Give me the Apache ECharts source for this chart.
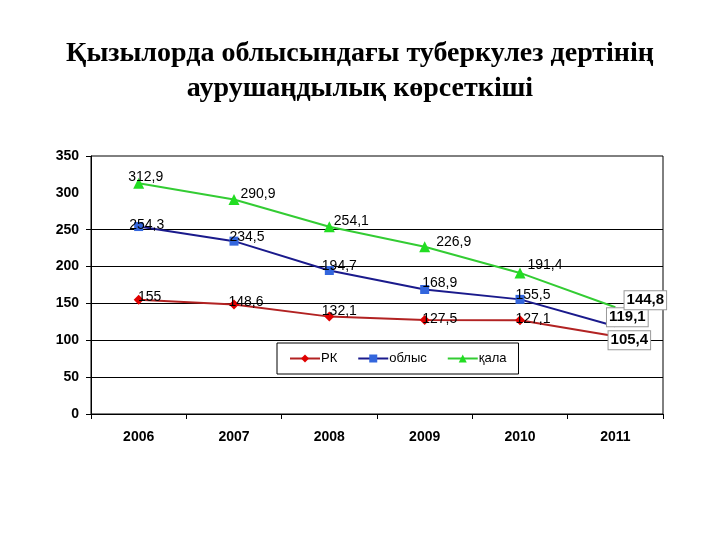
<!DOCTYPE html>
<html>
<head>
<meta charset="utf-8">
<script src="https://cdn.jsdelivr.net/npm/echarts@6/dist/echarts.min.js"></script>
<style>html,body{margin:0;padding:0;background:#fff}#c{width:720px;height:540px}</style>
</head>
<body>
<div id="c"></div>
<script>
var categories = ['2006', '2007', '2008', '2009', '2010', '2011'];
var seriesNames = ['РК', 'облыс', 'қала'];
var rkValues = [155, 148.6, 132.1, 127.5, 127.1, 105.4];
var oblysValues = [254.3, 234.5, 194.7, 168.9, 155.5, 119.1];
var qalaValues = [312.9, 290.9, 254.1, 226.9, 191.4, 144.8];
var yTicks = [0, 50, 100, 150, 200, 250, 350];

// label offsets (style only)
var rkOffsets = [[11,-3],[12,-2],[10,-5],[15,-1],[13,-1],[14,4]];
var oblysOffsets = [[8,-1],[13,-4],[10,-4],[15,-6],[13,-4],[12,-9]];
var qalaOffsets = [[7,-6],[24,-5],[22,-6],[29,-5],[25,-8],[30,-7]];

function fmt(v){ return String(v).replace('.', ','); }

function buildData(values, offsets, lastFont) {
  return values.map(function (v, i) {
    var last = i === values.length - 1;
    var item = {
      value: v,
      label: {
        show: true,
        position: 'inside',
        offset: offsets[i],
        formatter: function (p) { return fmt(p.value); },
        color: '#000',
        fontFamily: 'Liberation Sans, Arial, sans-serif',
        fontSize: 14
      }
    };
    if (last) {
      item.symbolSize = 0;
      item.label.fontWeight = 'bold';
      item.label.fontSize = lastFont;
      item.label.backgroundColor = '#fff';
      item.label.borderColor = '#999';
      item.label.borderWidth = 1;
      item.label.padding = [2, 2, 1, 2];
    }
    return item;
  });
}

var chart = echarts.init(document.getElementById('c'));
chart.setOption({
  animation: false,
  backgroundColor: '#fff',
  title: {
    text: 'Қызылорда облысындағы туберкулез дертінің\nаурушаңдылық көрсеткіші',
    left: 'center',
    top: 31,
    textStyle: {
      fontFamily: 'Liberation Serif, Times New Roman, serif',
      fontWeight: 'bold',
      fontSize: 28,
      lineHeight: 35,
      color: '#000'
    }
  },
  legend: {
    data: seriesNames,
    left: 277,
    top: 343,
    width: 220,
    height: 32,
    padding: [9, 12, 9, 12],
    itemGap: 20,
    itemWidth: 30,
    itemHeight: 10,
    backgroundColor: '#fff',
    borderColor: '#000',
    borderWidth: 1,
    textStyle: { fontFamily: 'Liberation Sans, Arial, sans-serif', fontSize: 13, color: '#000', padding: [0,0,0,-4] }
  },
  grid: {
    left: 91, right: 57, top: 156, bottom: 126,
    show: true,
    borderColor: '#000',
    borderWidth: 1,
    backgroundColor: '#fff'
  },
  xAxis: {
    type: 'category',
    data: categories,
    boundaryGap: true,
    axisLine: { lineStyle: { color: '#000', width: 1 } },
    axisTick: { show: true, length: 5, lineStyle: { color: '#000' } },
    axisLabel: {
      color: '#000', fontWeight: 'bold', fontSize: 14, margin: 16,
      fontFamily: 'Liberation Sans, Arial, sans-serif'
    }
  },
  yAxis: {
    type: 'value',
    min: 0, max: 350, interval: 50,
    axisLine: { show: true, lineStyle: { color: '#000', width: 1 } },
    axisTick: { show: true, length: 5, customValues: yTicks, lineStyle: { color: '#000' } },
    axisLabel: {
      color: '#000', fontWeight: 'bold', fontSize: 14, margin: 12,
      fontFamily: 'Liberation Sans, Arial, sans-serif'
    },
    splitLine: {
      show: true,
      lineStyle: { color: ['#000','#000','#000','#000','#000','#000','rgba(0,0,0,0)','#000'], width: 1 }
    }
  },
  series: [
    {
      name: seriesNames[0], type: 'line', data: buildData(rkValues, rkOffsets, 15),
      symbol: 'diamond', symbolSize: 10,
      lineStyle: { color: '#b22222', width: 2 },
      itemStyle: { color: '#e00000' },
      z: 3
    },
    {
      name: seriesNames[1], type: 'line', data: buildData(oblysValues, oblysOffsets, 15),
      symbol: 'rect', symbolSize: 9,
      lineStyle: { color: '#1a1a8c', width: 2 },
      itemStyle: { color: '#3366dd' },
      z: 3
    },
    {
      name: seriesNames[2], type: 'line', data: buildData(qalaValues, qalaOffsets, 15),
      symbol: 'triangle', symbolSize: 11,
      lineStyle: { color: '#33cc33', width: 2 },
      itemStyle: { color: '#22dd22' },
      z: 3
    }
  ]
});
</script>
</body>
</html>
